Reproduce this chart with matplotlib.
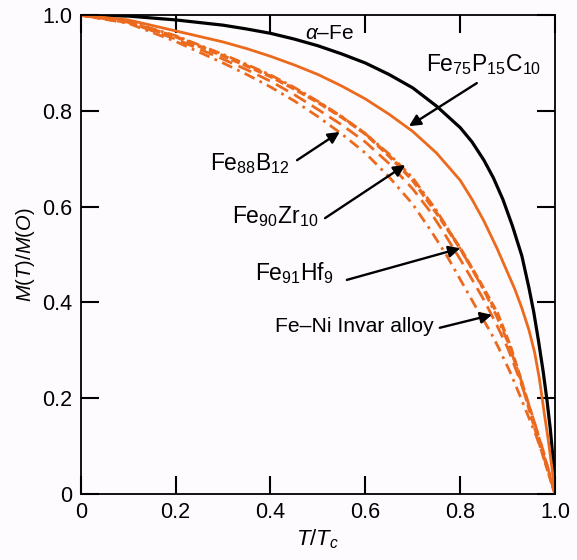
import numpy as np
import matplotlib
matplotlib.use("Agg")
import matplotlib.pyplot as plt

plt.rcParams['font.family'] = ['Liberation Sans', 'DejaVu Sans']
plt.rcParams['mathtext.fontset'] = 'custom'
plt.rcParams['mathtext.rm'] = 'Liberation Sans'
plt.rcParams['mathtext.it'] = 'Liberation Sans:italic'

ORANGE = '#ec6a1e'

# reduced temperature T/Tc and reduced magnetization M(T)/M(0) for each alloy
t_fe = [0.0, 0.1, 0.2, 0.3, 0.35, 0.4, 0.45, 0.5, 0.55, 0.6, 0.65, 0.7, 0.75,
        0.8, 0.825, 0.85, 0.87, 0.89, 0.91, 0.93, 0.945, 0.955, 0.965, 0.975,
        0.983, 0.99, 0.996, 1.0]
m_fe = [1.0, 0.998, 0.990, 0.979, 0.971, 0.962, 0.950, 0.936, 0.919, 0.900,
        0.876, 0.848, 0.810, 0.765, 0.735, 0.697, 0.660, 0.615, 0.560, 0.497,
        0.430, 0.380, 0.320, 0.255, 0.195, 0.135, 0.070, 0.0]

t_fepc = [0.0, 0.1, 0.2, 0.3, 0.35, 0.4, 0.45, 0.5, 0.55, 0.6, 0.65, 0.7,
          0.75, 0.8, 0.825, 0.85, 0.878, 0.9, 0.915, 0.93, 0.945, 0.957,
          0.967, 0.977, 0.986, 0.994, 1.0]
m_fepc = [1.0, 0.990, 0.967, 0.944, 0.930, 0.914, 0.896, 0.876, 0.852, 0.825,
          0.793, 0.757, 0.712, 0.655, 0.615, 0.570, 0.512, 0.462, 0.428, 0.388,
          0.342, 0.295, 0.240, 0.170, 0.110, 0.050, 0.0]

t_feb = [0.0, 0.1, 0.2, 0.3, 0.35, 0.4, 0.45, 0.5, 0.55, 0.6, 0.65, 0.7,
         0.74, 0.772, 0.8, 0.82, 0.84, 0.863, 0.88, 0.905, 0.926, 0.96, 0.98,
         1.0]
m_feb = [1.0, 0.983, 0.945, 0.900, 0.876, 0.850, 0.821, 0.788, 0.752, 0.712,
         0.662, 0.605, 0.547, 0.497, 0.448, 0.413, 0.378, 0.340, 0.307, 0.255,
         0.205, 0.122, 0.065, 0.0]

t_fezr = [0.0, 0.1, 0.2, 0.3, 0.35, 0.4, 0.45, 0.5, 0.55, 0.6, 0.65, 0.7,
          0.735, 0.764, 0.8, 0.825, 0.85, 0.875, 0.9, 0.925, 0.95, 0.975, 1.0]
m_fezr = [1.0, 0.985, 0.950, 0.908, 0.886, 0.862, 0.834, 0.803, 0.771, 0.735,
          0.690, 0.637, 0.592, 0.548, 0.490, 0.448, 0.405, 0.357, 0.305, 0.240,
          0.170, 0.090, 0.0]

t_fehf = [0.0, 0.1, 0.2, 0.3, 0.35, 0.4, 0.45, 0.5, 0.55, 0.6, 0.65, 0.7,
          0.75, 0.8, 0.825, 0.85, 0.875, 0.9, 0.925, 0.95, 0.975, 1.0]
m_fehf = [1.0, 0.987, 0.957, 0.918, 0.897, 0.875, 0.849, 0.820, 0.788, 0.752,
          0.710, 0.660, 0.592, 0.512, 0.470, 0.425, 0.375, 0.318, 0.248,
          0.170, 0.088, 0.0]

t_invar = [0.0, 0.1, 0.2, 0.3, 0.35, 0.4, 0.45, 0.5, 0.55, 0.6, 0.65, 0.7,
           0.757, 0.8, 0.842, 0.878, 0.905, 0.93, 0.95, 0.975, 1.0]
m_invar = [1.0, 0.985, 0.955, 0.915, 0.894, 0.872, 0.846, 0.818, 0.787, 0.752,
           0.706, 0.655, 0.577, 0.513, 0.442, 0.378, 0.310, 0.232, 0.162,
           0.080, 0.0]

ticks = [0, 0.2, 0.4, 0.6, 0.8, 1.0]
tick_labels = ['0', '0.2', '0.4', '0.6', '0.8', '1.0']

fig = plt.figure(figsize=(5.77, 5.60), dpi=100, facecolor='#fdfbfd')
ax = fig.add_axes([0.140, 0.118, 0.822, 0.855])
ax.set_facecolor('#fdfbfd')

ax.plot(t_fe, m_fe, color='black', lw=2.3)
ax.plot(t_fepc, m_fepc, color=ORANGE, lw=2.0)
ax.plot(t_feb, m_feb, color=ORANGE, lw=2.0, ls=(0, (4, 2, 1, 2)))
ax.plot(t_fezr, m_fezr, color=ORANGE, lw=2.0, ls=(0, (5, 2.5)))
ax.plot(t_fehf, m_fehf, color=ORANGE, lw=2.0, ls=(0, (4, 1.5, 1, 1.5)))
ax.plot(t_invar, m_invar, color=ORANGE, lw=2.5, ls=(0, (2.5, 1)))

ax.set_xlim(0, 1)
ax.set_ylim(0, 1)
ax.set_xticks(ticks)
ax.set_yticks(ticks)
ax.set_xticklabels(tick_labels)
ax.set_yticklabels(tick_labels)
ax.tick_params(axis='both', which='major', direction='in', length=13,
               width=1.5, color='black', labelsize=15.5,
               top=True, right=True, pad=6)
for s in ax.spines.values():
    s.set_linewidth(1.3)

ax.set_xlabel(r'$T/T_c$', fontsize=16, labelpad=3)
ax.set_ylabel(r'$M(T)/M(O)$', fontsize=14.5, labelpad=4)

# curve labels with arrows
ax.text(0.525, 0.962, r'$\alpha$–Fe', fontsize=15, ha='center', va='center')
arrow = dict(arrowstyle='-|>', color='black', lw=1.7, mutation_scale=17,
             shrinkA=0, shrinkB=0)
ax.text(0.85, 0.896, r'Fe$_{75}$P$_{15}$C$_{10}$', fontsize=16.5,
        ha='center', va='center')
ax.annotate('', xy=(0.692, 0.768), xytext=(0.835, 0.858), arrowprops=arrow)
ax.text(0.272, 0.69, r'Fe$_{88}$B$_{12}$', fontsize=16.5, ha='left', va='center')
ax.annotate('', xy=(0.546, 0.756), xytext=(0.456, 0.697), arrowprops=arrow)
ax.text(0.319, 0.58, r'Fe$_{90}$Zr$_{10}$', fontsize=16.5, ha='left', va='center')
ax.annotate('', xy=(0.684, 0.687), xytext=(0.515, 0.576), arrowprops=arrow)
ax.text(0.367, 0.461, r'Fe$_{91}$Hf$_{9}$', fontsize=16.5, ha='left', va='center')
ax.annotate('', xy=(0.80, 0.513), xytext=(0.561, 0.447), arrowprops=arrow)
ax.text(0.41, 0.349, 'Fe–Ni Invar alloy', fontsize=15.2, ha='left', va='center')
ax.annotate('', xy=(0.867, 0.374), xytext=(0.757, 0.347), arrowprops=arrow)

fig.savefig('out.png', dpi=100, facecolor=fig.get_facecolor())
